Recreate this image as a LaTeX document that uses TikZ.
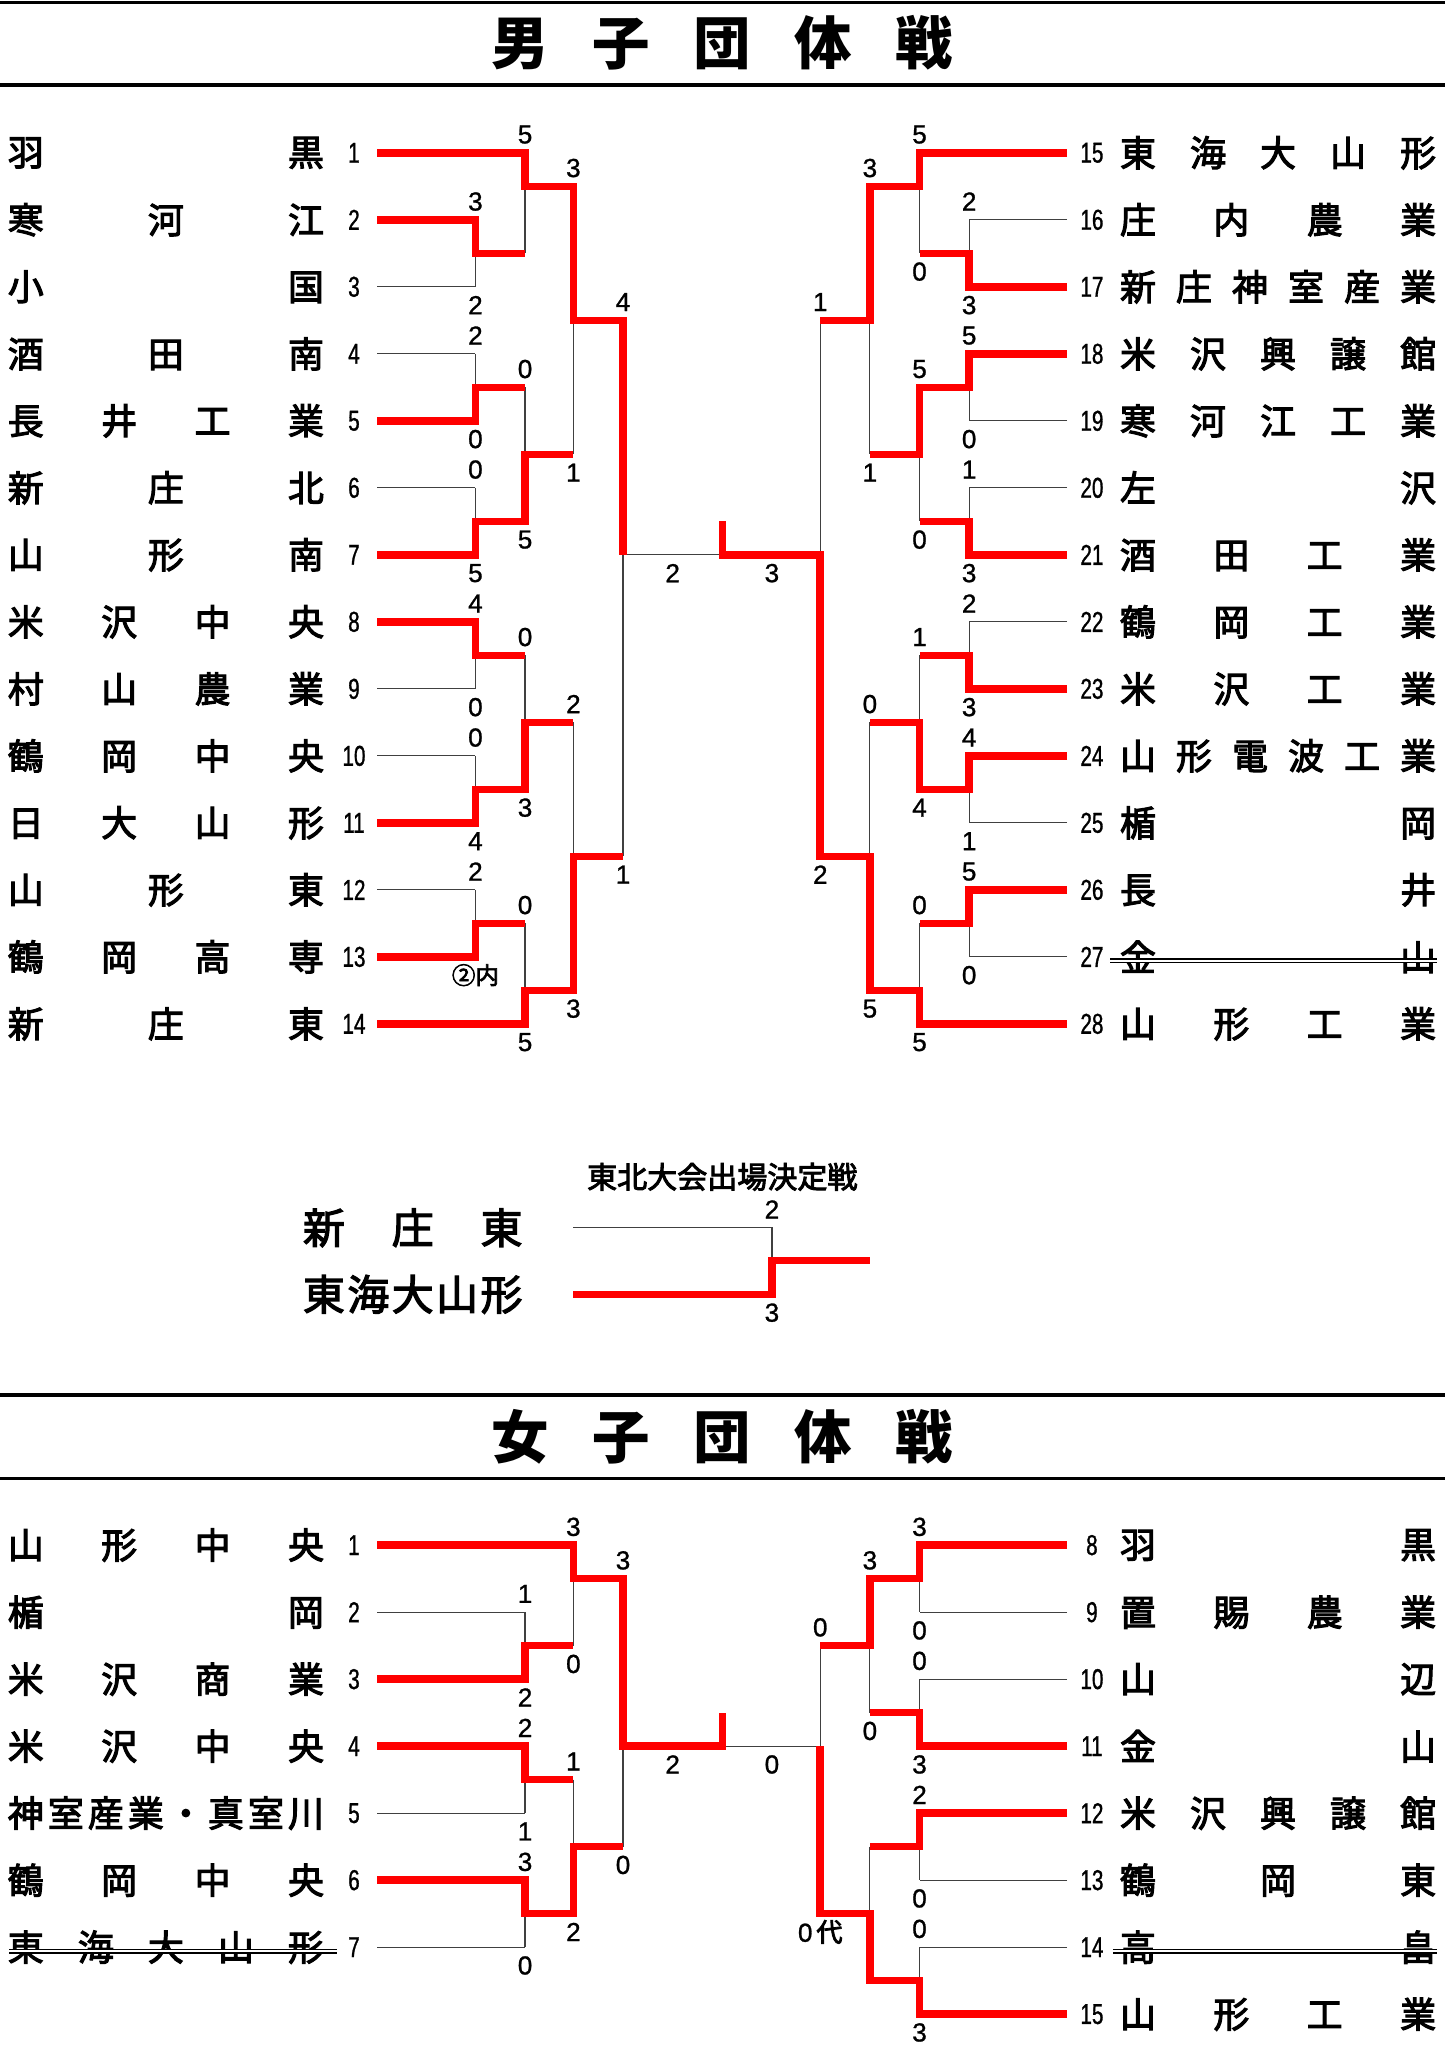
\documentclass[tikz,border=0pt]{standalone}
\usepackage{fontspec}
\setmainfont[FakeBold=1]{Liberation Sans}
\newfontfamily\cjk{Noto Sans CJK JP}
\newfontfamily\cjkname[FakeBold=3]{Noto Sans CJK JP}
\newfontfamily\numfont[FakeStretch=0.72, FakeBold=1]{Liberation Sans}
\usetikzlibrary{positioning}

\newcommand\gp{\hfill}
\newcommand\nm[1]{\makebox[242pt]{#1}}

\tikzset{
  lose/.style={draw=black!75, line width=0.9pt},
  win/.style={draw=red, line width=5.8pt, line join=miter},
  strike/.style={draw=black, line width=1.3pt, double=white, double distance=1.2pt},
  band/.style={draw=black, line width=2.5pt},
  tname/.style={font=\cjkname\fontsize{27.5pt}{27.5pt}\selectfont, inner sep=0pt},
  seed/.style={font=\numfont\fontsize{22pt}{22pt}\selectfont, inner sep=0pt},
  score/.style={font=\fontsize{20pt}{20pt}\selectfont, inner sep=0pt},
  headline/.style={font=\cjk\bfseries\fontsize{44pt}{44pt}\selectfont, inner sep=0pt},
  note/.style={font=\cjkname\fontsize{23pt}{23pt}\selectfont, inner sep=0pt},
  bigname/.style={font=\cjkname\fontsize{32pt}{32pt}\selectfont, inner sep=0pt},
}

\begin{document}
\begin{tikzpicture}[x=1pt, y=-1pt]
  \useasboundingbox (0,0) rectangle (1106,1568);

  % men heading
  \draw[band] (0,2) -- (1106,2);
  \draw[band] (0,65) -- (1106,65);
  \node[headline] (mhead) at (553,33) {\makebox[354pt]{男\gp 子\gp 団\gp 体\gp 戦}};

  % men bracket, one unit = one row
  \begin{scope}[yshift=-65.7pt, y=-51.3pt]
    \foreach \i [evaluate=\i as \j using int(\i+14)] in {1,...,14} {
      \coordinate (p\i) at (289,\i);
      \coordinate (q\j) at (817,\i);
      \node[seed] (n\i) at (271,\i) {\i};
      \node[seed] (n\j) at (836,\i) {\j};
    }
    \foreach \t [count=\i] in {{羽\gp 黒},{寒\gp 河\gp 江},{小\gp 国},{酒\gp 田\gp 南},
        {長\gp 井\gp 工\gp 業},{新\gp 庄\gp 北},{山\gp 形\gp 南},{米\gp 沢\gp 中\gp 央},
        {村\gp 山\gp 農\gp 業},{鶴\gp 岡\gp 中\gp 央},{日\gp 大\gp 山\gp 形},{山\gp 形\gp 東},
        {鶴\gp 岡\gp 高\gp 専},{新\gp 庄\gp 東}}
      \node[tname] (ml\i) at (127,\i) {\nm{\t}};
    \foreach \t [count=\i] in {{東\gp 海\gp 大\gp 山\gp 形},{庄\gp 内\gp 農\gp 業},
        {新\gp 庄\gp 神\gp 室\gp 産\gp 業},{米\gp 沢\gp 興\gp 譲\gp 館},{寒\gp 河\gp 江\gp 工\gp 業},
        {左\gp 沢},{酒\gp 田\gp 工\gp 業},{鶴\gp 岡\gp 工\gp 業},{米\gp 沢\gp 工\gp 業},
        {山\gp 形\gp 電\gp 波\gp 工\gp 業},{楯\gp 岡},{長\gp 井},{金\gp 山},{山\gp 形\gp 工\gp 業}}
      \node[tname] (mr\i) at (978.5,\i) {\nm{\t}};
    \draw[strike] (850,13.06) -- (1100,13.06);

    % thin lines
    \foreach \r/\xv in {1/402,2/364,3/364,4/364,5/364,6/364,7/364,8/364,9/364,
        10/364,11/364,12/364,13/364,14/402}
      \draw[lose] (p\r) -- (\xv,\r);
    \foreach \r/\xv in {15/704,16/742,17/742,18/742,19/742,20/742,21/742,22/742,
        23/742,24/742,25/742,26/742,27/742,28/704}
      \draw[lose] (q\r) -- (\xv,\r-14);
    \foreach \xa/\ya/\yb/\yo/\xb in {364/2/3/2.5/402, 402/1/2.5/1.5/439, 364/4/5/4.5/402,
        364/6/7/6.5/402, 402/4.5/6.5/5.5/439, 439/1.5/5.5/3.5/477, 364/8/9/8.5/402,
        364/10/11/10.5/402, 402/8.5/10.5/9.5/439, 364/12/13/12.5/402, 402/12.5/14/13.5/439,
        439/9.5/13.5/11.5/477, 477/3.5/11.5/7/553,
        742/2/3/2.5/704, 704/1/2.5/1.5/666, 742/4/5/4.5/704, 742/6/7/6.5/704,
        704/4.5/6.5/5.5/666, 666/1.5/5.5/3.5/628, 742/8/9/8.5/704, 742/10/11/10.5/704,
        704/8.5/10.5/9.5/666, 742/12/13/12.5/704, 704/12.5/14/13.5/666,
        666/9.5/13.5/11.5/628, 628/3.5/11.5/7/553}
      \draw[lose] (\xa,\ya) -- (\xa,\yb) (\xa,\yo) -- (\xb,\yo);

    % winners
    \draw[win] (p1) -- (402,1) -- (402,1.5) -- (439,1.5) -- (439,3.5) -- (477,3.5) -- (477,7);
    \draw[win] (p2) -- (364,2) -- (364,2.5) -- (402,2.5);
    \draw[win] (p5) -- (364,5) -- (364,4.5) -- (402,4.5);
    \draw[win] (p7) -- (364,7) -- (364,6.5) -- (402,6.5) -- (402,5.5) -- (439,5.5);
    \draw[win] (p8) -- (364,8) -- (364,8.5) -- (402,8.5);
    \draw[win] (p11) -- (364,11) -- (364,10.5) -- (402,10.5) -- (402,9.5) -- (439,9.5);
    \draw[win] (p13) -- (364,13) -- (364,12.5) -- (402,12.5);
    \draw[win] (p14) -- (402,14) -- (402,13.5) -- (439,13.5) -- (439,11.5) -- (477,11.5);
    \draw[win] (q15) -- (704,1) -- (704,1.5) -- (666,1.5) -- (666,3.5) -- (628,3.5);
    \draw[win] (q17) -- (742,3) -- (742,2.5) -- (704,2.5);
    \draw[win] (q18) -- (742,4) -- (742,4.5) -- (704,4.5) -- (704,5.5) -- (666,5.5);
    \draw[win] (q21) -- (742,7) -- (742,6.5) -- (704,6.5);
    \draw[win] (q23) -- (742,9) -- (742,8.5) -- (704,8.5);
    \draw[win] (q24) -- (742,10) -- (742,10.5) -- (704,10.5) -- (704,9.5) -- (666,9.5);
    \draw[win] (q26) -- (742,12) -- (742,12.5) -- (704,12.5);
    \draw[win] (q28) -- (704,14) -- (704,13.5) -- (666,13.5) -- (666,11.5) -- (628,11.5)
      -- (628,7) -- (553,7) -- (553,6.5);

    % scores
    \foreach \x/\y/\s [count=\i] in {402/1/5, 439/1.5/3, 364/2/3, 477/3.5/4, 364/4/2,
        402/4.5/0, 364/6/0, 364/8/4, 402/8.5/0, 439/9.5/2, 364/10/0, 364/12/2, 402/12.5/0,
        704/1/5, 666/1.5/3, 742/2/2, 628/3.5/1, 742/4/5, 704/4.5/5, 742/6/1, 742/8/2,
        704/8.5/1, 666/9.5/0, 742/10/4, 742/12/5, 704/12.5/0}
      \node[score, yshift=14pt] (mu\i) at (\x,\y) {\s};
    \foreach \x/\y/\s [count=\i] in {364/3/2, 364/5/0, 439/5.5/1, 402/6.5/5, 364/7/5,
        364/9/0, 402/10.5/3, 364/11/4, 477/11.5/1, 439/13.5/3, 402/14/5, 515/7/2, 591/7/3,
        704/2.5/0, 742/3/3, 742/5/0, 666/5.5/1, 704/6.5/0, 742/7/3, 742/9/3, 704/10.5/4,
        742/11/1, 628/11.5/2, 742/13/0, 666/13.5/5, 704/14/5}
      \node[score, yshift=-14pt] (md\i) at (\x,\y) {\s};
    \node[score, yshift=-14pt, font=\cjkname\fontsize{18pt}{18pt}\selectfont] (mdin) at (364,13) {②内};
  \end{scope}

  % Tohoku qualifier
  \node[note] (qtitle) at (553,901) {東北大会出場決定戦};
  \node[bigname] (qa) at (316,940) {\makebox[168pt]{新\gp 庄\gp 東}};
  \node[bigname] (qb) at (316,991) {\makebox[168pt]{東\gp 海\gp 大\gp 山\gp 形}};
  \coordinate (qa1) at (439,940);
  \coordinate (qb1) at (439,991);
  \draw[lose] (qa1) -- (591,940) -- (591,965);
  \draw[win] (qb1) -- (591,991) -- (591,965) -- (666,965);
  \node[score, yshift=14pt] (qs1) at (591,940) {2};
  \node[score, yshift=-14pt] (qs2) at (591,991) {3};

  % women heading
  \draw[band] (0,1068) -- (1106,1068);
  \draw[band] (0,1132) -- (1106,1132);
  \node[headline] (whead) at (553,1100) {\makebox[354pt]{女\gp 子\gp 団\gp 体\gp 戦}};

  % women bracket
  \begin{scope}[yshift=-1131.7pt, y=-51.3pt]
    \foreach \i in {1,...,7} {
      \coordinate (wp\i) at (289,\i);
      \node[seed] (wn\i) at (271,\i) {\i};
    }
    \foreach \i [evaluate=\i as \j using int(\i+7)] in {1,...,8} {
      \coordinate (wq\j) at (817,\i);
      \node[seed] (wn\j) at (836,\i) {\j};
    }
    \foreach \t [count=\i] in {{山\gp 形\gp 中\gp 央},{楯\gp 岡},{米\gp 沢\gp 商\gp 業},
        {米\gp 沢\gp 中\gp 央},{神\gp 室\gp 産\gp 業\gp ・\gp 真\gp 室\gp 川},
        {鶴\gp 岡\gp 中\gp 央},{東\gp 海\gp 大\gp 山\gp 形}}
      \node[tname] (wl\i) at (127,\i) {\nm{\t}};
    \foreach \t [count=\i] in {{羽\gp 黒},{置\gp 賜\gp 農\gp 業},{山\gp 辺},{金\gp 山},
        {米\gp 沢\gp 興\gp 譲\gp 館},{鶴\gp 岡\gp 東},{高\gp 畠},{山\gp 形\gp 工\gp 業}}
      \node[tname] (wr\i) at (978.5,\i) {\nm{\t}};
    \draw[strike] (7,7.06) -- (258,7.06);
    \draw[strike] (852,7.06) -- (1100,7.06);

    % thin lines
    \foreach \r/\xv in {1/439,2/402,3/402,4/402,5/402,6/402,7/402}
      \draw[lose] (wp\r) -- (\xv,\r);
    \foreach \r in {8,...,15}
      \draw[lose] (wq\r) -- (704,\r-7);
    \foreach \xa/\ya/\yb/\yo/\xb in {402/2/3/2.5/439, 439/1/2.5/1.5/477, 402/4/5/4.5/439,
        402/6/7/6.5/439, 439/4.5/6.5/5.5/477, 477/1.5/5.5/4/553,
        704/1/2/1.5/666, 704/3/4/3.5/666, 666/1.5/3.5/2.5/628, 704/5/6/5.5/666,
        704/7/8/7.5/666, 666/5.5/7.5/6.5/628, 628/2.5/6.5/4/553}
      \draw[lose] (\xa,\ya) -- (\xa,\yb) (\xa,\yo) -- (\xb,\yo);

    % winners
    \draw[win] (wp1) -- (439,1) -- (439,1.5) -- (477,1.5) -- (477,4) -- (553,4) -- (553,3.5);
    \draw[win] (wp3) -- (402,3) -- (402,2.5) -- (439,2.5);
    \draw[win] (wp4) -- (402,4) -- (402,4.5) -- (439,4.5);
    \draw[win] (wp6) -- (402,6) -- (402,6.5) -- (439,6.5) -- (439,5.5) -- (477,5.5);
    \draw[win] (wq8) -- (704,1) -- (704,1.5) -- (666,1.5) -- (666,2.5) -- (628,2.5);
    \draw[win] (wq11) -- (704,4) -- (704,3.5) -- (666,3.5);
    \draw[win] (wq12) -- (704,5) -- (704,5.5) -- (666,5.5);
    \draw[win] (wq15) -- (704,8) -- (704,7.5) -- (666,7.5) -- (666,6.5) -- (628,6.5) -- (628,4);

    % scores
    \foreach \x/\y/\s [count=\i] in {439/1/3, 477/1.5/3, 402/2/1, 402/4/2, 439/4.5/1,
        402/6/3, 704/1/3, 666/1.5/3, 628/2.5/0, 704/3/0, 704/5/2, 704/7/0}
      \node[score, yshift=14pt] (wu\i) at (\x,\y) {\s};
    \foreach \x/\y/\s [count=\i] in {439/2.5/0, 402/3/2, 402/5/1, 477/5.5/0, 439/6.5/2,
        402/7/0, 515/4/2, 591/4/0, 704/2/0, 666/3.5/0, 704/4/3, 704/6/0, 704/8/3}
      \node[score, yshift=-14pt] (wd\i) at (\x,\y) {\s};
    \node[score, yshift=-14pt] (wdai) at (628,6.5) {0\hspace{3pt}{\cjkname 代}};
  \end{scope}
\end{tikzpicture}
\end{document}
